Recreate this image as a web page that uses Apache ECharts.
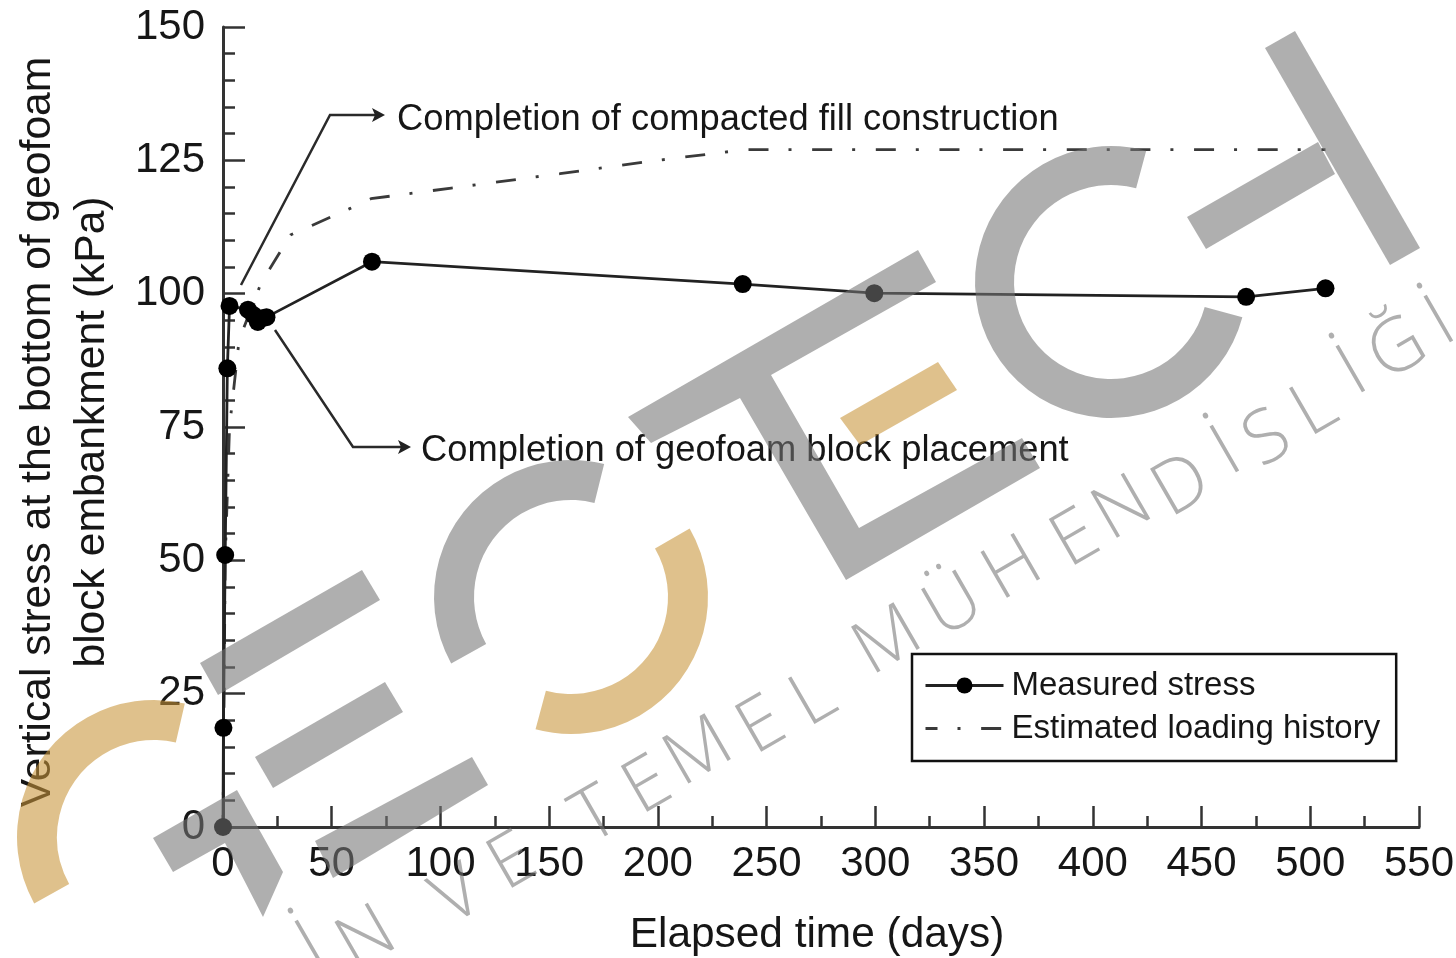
<!DOCTYPE html>
<html><head><meta charset="utf-8">
<style>html,body{margin:0;padding:0;background:#fff}#c{width:1456px;height:958px}</style>
<script src="https://cdn.jsdelivr.net/npm/echarts@6/dist/echarts.min.js"></script>
</head><body><div id="c"></div>
<script>
const measuredDays   = [0, 0.2, 1, 2, 3, 11.5, 14, 16, 18, 20, 68.5, 239, 299.5, 470.5, 507];
const measuredStress = [0, 18.6, 51, 86, 97.7, 97, 96, 94.7, 95.4, 95.6, 106, 101.8, 100.1, 99.4, 101];
const loadingDays    = [0, 1, 3, 7.4, 17.5, 31, 58, 68, 105, 155, 196, 240, 507];
const loadingStress  = [0, 50, 75, 91.3, 102, 111, 115.9, 117.8, 119.8, 122.5, 124.8, 127, 127];
const seriesNames = ['Measured stress', 'Estimated loading history'];
const xAxisTitle = 'Elapsed time (days)';
const yAxisTitle = 'Vertical stress at the bottom of geofoam\nblock embankment (kPa)';
const noteFill = 'Completion of compacted fill construction';
const notePlacement = 'Completion of geofoam block placement';
const watermarkLetters = ['İ','N','V','E','T','E','M','E','L','M','Ü','H','E','N','D','İ','S','L','İ','Ğ','İ'];

const FONT = '"Liberation Sans", Arial, sans-serif';
const INK = '#161616';
const GREY = 'rgba(118,118,118,0.58)';
const TAN = 'rgba(200,148,57,0.58)';
const deg = d => d * Math.PI / 180;
const zip = (a, b) => a.map((v, i) => [v, b[i]]);

// watermark geometry (decoration, not data)
const poly = (points, fill) => ({type:'polygon', silent:true, z:200, shape:{points}, style:{fill}});
const arc = (cx, cy, a0, a1, fill) => ({type:'sector', silent:true, z:200,
  shape:{cx, cy, r:137, r0:97, startAngle:deg(a0), endAngle:deg(a1), clockwise:true}, style:{fill}});
const letterPos = [[312,948],[367,940],[458,897],[513,863],[596,817],[648,787],[699,753],[762,727],[814,700],
  [888,642],[954,607],[1013,570],[1076,540],[1123,510],[1182,487],[1227,453],[1268,440],[1315,410],[1353,373],[1398,350],[1441,323]];
const watermark = [
  poly([[1265,48],[1295,31],[1420,248],[1390,265]], GREY),
  poly([[1187,217],[1318,142],[1335,174],[1206,249]], GREY),
  {type:'sector', silent:true, z:200, shape:{cx:1111,cy:282,r:136,r0:97,startAngle:deg(15),endAngle:deg(285),clockwise:true}, style:{fill:GREY}},
  poly([[628,417],[918,250],[936,282],[771,375],[859,528],[1022,438],[1040,468],[846,580],[740,398],[651,443]], GREY),
  poly([[840,418],[938,362],[957,390],[860,445]], TAN),
  arc(571,597,151,284,GREY),
  arc(571,597,-30,105,TAN),
  arc(154,837,151,283,TAN),
  poly([[200,663],[362,570],[380,600],[218,695]], GREY),
  poly([[255,757],[385,682],[403,712],[273,788]], GREY),
  poly([[153,838],[237,790],[283,872],[263,917],[225,843],[173,872]], GREY),
  poly([[315,841],[472,757],[488,785],[333,878]], GREY)
].concat(watermarkLetters.map((ch, i) => ({type:'text', silent:true, z:200, x:letterPos[i][0], y:letterPos[i][1], rotation:deg(30),
  style:{text:ch, fill:GREY, font:'300 74px "Open Sans", sans-serif', align:'center', verticalAlign:'middle'}})));

// annotation arrows and text
const line = pts => ({type:'polyline', silent:true, z:50, shape:{points:pts}, style:{stroke:'#2a2a2a', lineWidth:2.5, fill:null}});
const head = (x, y) => ({type:'polygon', silent:true, z:50, shape:{points:[[x,y],[x-13,y-7],[x-10,y],[x-13,y+7]]}, style:{fill:'#222'}});
const note = (x, y, text) => ({type:'text', silent:true, z:50, x, y,
  style:{text, fill:INK, font:'36.3px '+FONT, align:'left', verticalAlign:'middle'}});
const annotations = [
  line([[241,285],[330,115],[378,115]]), head(385,115), note(397,120,noteFill),
  line([[275,330],[353,447],[404,447]]), head(411,447), note(421,451,notePlacement)
];

const chart = echarts.init(document.getElementById('c'));
chart.setOption({
  animation:false,
  backgroundColor:'#fff',
  grid:{left:223, right:37, top:27, bottom:131, containLabel:false, outerBoundsMode:'none'},
  legend:{
    left:912, top:654, orient:'vertical', itemWidth:78, itemHeight:20, itemGap:10,
    padding:[15,16,16,12], backgroundColor:'#fff', borderColor:'#111', borderWidth:2.5, borderRadius:0,
    lineStyle:{width:3},
    data:[{name:seriesNames[0]}, {name:seriesNames[1], itemStyle:{color:'transparent'}}],
    textStyle:{fontFamily:FONT, fontSize:33, color:INK, padding:[0,0,0,3]}
  },
  xAxis:{
    type:'value', min:0, max:550, interval:50, splitLine:{show:false},
    name:xAxisTitle, nameLocation:'middle', nameGap:87,
    nameTextStyle:{fontFamily:FONT, fontSize:42.4, color:INK, padding:[0,8,0,0]},
    axisLine:{onZero:false, lineStyle:{color:'#333', width:3}},
    axisTick:{inside:true, length:21, lineStyle:{color:'#333', width:2.5}},
    minorTick:{show:true, splitNumber:2, length:11, lineStyle:{color:'#333', width:2.5}},
    axisLabel:{fontFamily:FONT, fontSize:42, color:INK, margin:16, hideOverlap:false}
  },
  yAxis:{
    type:'value', min:0, max:150, interval:25, splitLine:{show:false},
    name:yAxisTitle, nameLocation:'middle', nameGap:104, nameRotate:90,
    nameTextStyle:{fontFamily:FONT, fontSize:42.6, color:INK, lineHeight:54, padding:[0,10,0,0]},
    axisLine:{onZero:false, lineStyle:{color:'#333', width:3}},
    axisTick:{inside:true, length:22, lineStyle:{color:'#333', width:2.5}},
    minorTick:{show:true, splitNumber:5, length:12, lineStyle:{color:'#333', width:2.5}},
    axisLabel:{fontFamily:FONT, fontSize:42, color:INK, margin:18, hideOverlap:false, padding:[4,0,0,0]}
  },
  series:[
    {name:seriesNames[0], type:'line', data:zip(measuredDays, measuredStress), clip:false, z:5,
     symbol:'circle', symbolSize:18, showAllSymbol:true,
     lineStyle:{color:'#222', width:2.8}, itemStyle:{color:'#000'}},
    {name:seriesNames[1], type:'line', data:zip(loadingDays, loadingStress), clip:false, z:3,
     symbol:'none', lineStyle:{color:'#3a3a3a', width:2.8, type:[20,20,3,20.65], dashOffset:8}, itemStyle:{color:'#3a3a3a'}}
  ],
  graphic:{elements:annotations.concat(watermark)}
});
</script></body></html>
